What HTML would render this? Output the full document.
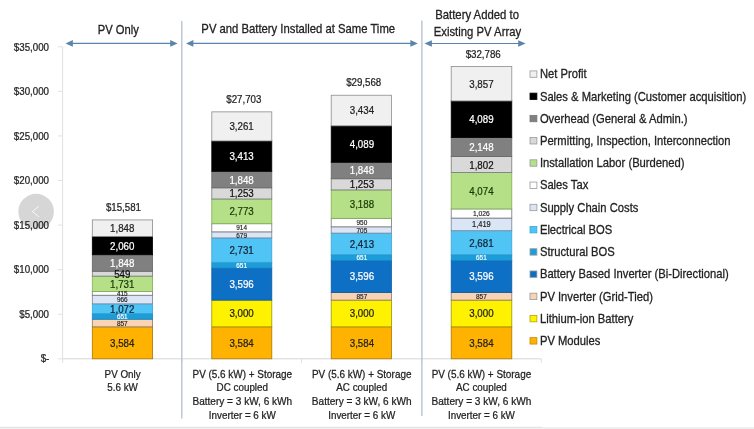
<!DOCTYPE html>
<html><head><meta charset="utf-8"><title>Chart</title>
<style>
html,body{margin:0;padding:0;background:#fff;}
body{width:754px;height:429px;overflow:hidden;font-family:"Liberation Sans", sans-serif;}
svg{display:block;font-family:"Liberation Sans", sans-serif;}
</style></head><body>
<svg width="754" height="429" viewBox="0 0 754 429">
<defs><filter id="soft" x="0" y="0" width="754" height="429" filterUnits="userSpaceOnUse"><feGaussianBlur stdDeviation="0.45"/></filter></defs>
<g filter="url(#soft)">
<rect x="-5" y="-5" width="764" height="439" fill="#fff"/>
<line x1="62.6" y1="46.81" x2="62.6" y2="358.8" stroke="#e0e0e0" stroke-width="1"/>
<line x1="62.6" y1="358.8" x2="541.3" y2="358.8" stroke="#d6d6d6" stroke-width="1"/>
<line x1="57.8" y1="358.80" x2="62.6" y2="358.80" stroke="#e2e2e2" stroke-width="1"/>
<text transform="translate(49.30,361.70) scale(0.885,1)" font-size="11" fill="#222" text-anchor="end" stroke="#222" stroke-width="0.25" >$-</text>
<line x1="57.8" y1="314.23" x2="62.6" y2="314.23" stroke="#e2e2e2" stroke-width="1"/>
<text transform="translate(49.00,318.03) scale(0.885,1)" font-size="11" fill="#222" text-anchor="end" stroke="#222" stroke-width="0.25" >$5,000</text>
<line x1="57.8" y1="269.66" x2="62.6" y2="269.66" stroke="#e2e2e2" stroke-width="1"/>
<text transform="translate(49.00,273.46) scale(0.885,1)" font-size="11" fill="#222" text-anchor="end" stroke="#222" stroke-width="0.25" >$10,000</text>
<line x1="57.8" y1="225.09" x2="62.6" y2="225.09" stroke="#e2e2e2" stroke-width="1"/>
<text transform="translate(49.00,228.89) scale(0.885,1)" font-size="11" fill="#222" text-anchor="end" stroke="#222" stroke-width="0.25" >$15,000</text>
<line x1="57.8" y1="180.52" x2="62.6" y2="180.52" stroke="#e2e2e2" stroke-width="1"/>
<text transform="translate(49.00,184.32) scale(0.885,1)" font-size="11" fill="#222" text-anchor="end" stroke="#222" stroke-width="0.25" >$20,000</text>
<line x1="57.8" y1="135.95" x2="62.6" y2="135.95" stroke="#e2e2e2" stroke-width="1"/>
<text transform="translate(49.00,139.75) scale(0.885,1)" font-size="11" fill="#222" text-anchor="end" stroke="#222" stroke-width="0.25" >$25,000</text>
<line x1="57.8" y1="91.38" x2="62.6" y2="91.38" stroke="#e2e2e2" stroke-width="1"/>
<text transform="translate(49.00,95.18) scale(0.885,1)" font-size="11" fill="#222" text-anchor="end" stroke="#222" stroke-width="0.25" >$30,000</text>
<line x1="57.8" y1="46.81" x2="62.6" y2="46.81" stroke="#e2e2e2" stroke-width="1"/>
<text transform="translate(49.00,50.61) scale(0.885,1)" font-size="11" fill="#222" text-anchor="end" stroke="#222" stroke-width="0.25" >$35,000</text>
<line x1="62.6" y1="358.8" x2="62.6" y2="362.8" stroke="#e0e0e0" stroke-width="1"/>
<line x1="182.0" y1="358.8" x2="182.0" y2="362.8" stroke="#e0e0e0" stroke-width="1"/>
<line x1="301.6" y1="358.8" x2="301.6" y2="362.8" stroke="#e0e0e0" stroke-width="1"/>
<line x1="421.8" y1="358.8" x2="421.8" y2="362.8" stroke="#e0e0e0" stroke-width="1"/>
<line x1="541.3" y1="358.8" x2="541.3" y2="362.8" stroke="#e0e0e0" stroke-width="1"/>
<line x1="181.8" y1="21" x2="181.8" y2="418.5" stroke="#b4c0cc" stroke-width="1.3"/>
<line x1="421.9" y1="20.5" x2="421.9" y2="416" stroke="#b4c0cc" stroke-width="1.3"/>
<line x1="68.5" y1="43.4" x2="174.6" y2="43.4" stroke="#5a84ae" stroke-width="1.1"/>
<polygon points="65.5,43.4 72.9,40.1 72.9,46.699999999999996" fill="#5a84ae"/>
<polygon points="177.6,43.4 170.2,40.1 170.2,46.699999999999996" fill="#5a84ae"/>
<line x1="189.0" y1="43.4" x2="414.8" y2="43.4" stroke="#5a84ae" stroke-width="1.1"/>
<polygon points="186.0,43.4 193.4,40.1 193.4,46.699999999999996" fill="#5a84ae"/>
<polygon points="417.8,43.4 410.40000000000003,40.1 410.40000000000003,46.699999999999996" fill="#5a84ae"/>
<line x1="427.5" y1="43.5" x2="522.6" y2="43.5" stroke="#5a84ae" stroke-width="1.1"/>
<polygon points="424.5,43.5 431.9,40.2 431.9,46.8" fill="#5a84ae"/>
<polygon points="525.6,43.5 518.2,40.2 518.2,46.8" fill="#5a84ae"/>
<text transform="translate(118.30,34.10) scale(0.862,1)" font-size="13" fill="#222" text-anchor="middle" stroke="#222" stroke-width="0.30" >PV Only</text>
<text transform="translate(298.20,32.70) scale(0.869,1)" font-size="13" fill="#222" text-anchor="middle" stroke="#222" stroke-width="0.30" >PV and Battery Installed at Same Time</text>
<text transform="translate(477.10,19.20) scale(0.872,1)" font-size="13" fill="#222" text-anchor="middle" stroke="#222" stroke-width="0.30" >Battery Added to</text>
<text transform="translate(477.40,35.60) scale(0.871,1)" font-size="13" fill="#222" text-anchor="middle" stroke="#222" stroke-width="0.30" >Existing PV Array</text>
<rect x="92.30" y="326.85" width="60.30" height="31.95" fill="#FFB300" stroke="#A87600" stroke-width="0.8"/>
<rect x="92.30" y="319.21" width="60.30" height="7.64" fill="#F8D3B4" stroke="#8a7868" stroke-width="0.8"/>
<rect x="92.30" y="313.41" width="60.30" height="5.80" fill="#1E9CD8" stroke="#1788c0" stroke-width="0.8"/>
<rect x="92.30" y="303.85" width="60.30" height="9.56" fill="#4FC4F5" stroke="#3aa6d4" stroke-width="0.8"/>
<rect x="92.30" y="295.24" width="60.30" height="8.61" fill="#DAE5F5" stroke="#7c8294" stroke-width="0.8"/>
<rect x="92.30" y="291.54" width="60.30" height="3.70" fill="#FFFFFF" stroke="#777" stroke-width="0.8"/>
<rect x="92.30" y="276.11" width="60.30" height="15.43" fill="#B5E088" stroke="#7fae55" stroke-width="0.8"/>
<rect x="92.30" y="271.22" width="60.30" height="4.89" fill="#D9D9D9" stroke="#777" stroke-width="0.8"/>
<rect x="92.30" y="254.75" width="60.30" height="16.47" fill="#808080" stroke="#666" stroke-width="0.8"/>
<rect x="92.30" y="236.38" width="60.30" height="18.36" fill="#000000" stroke="#000" stroke-width="0.8"/>
<rect x="92.30" y="219.91" width="60.30" height="16.47" fill="#F0F0F0" stroke="#8c8c8c" stroke-width="0.8"/>
<text transform="translate(122.25,346.76) scale(0.885,1)" font-size="11" fill="#222" text-anchor="middle" stroke="#222" stroke-width="0.25" >3,584</text>
<text transform="translate(122.25,325.65) scale(0.885,1)" font-size="7.3" fill="#222" text-anchor="middle" stroke="#222" stroke-width="0.17" >857</text>
<text transform="translate(122.25,318.92) scale(0.885,1)" font-size="7.3" fill="#fff" text-anchor="middle" stroke="#fff" stroke-width="0.17" >651</text>
<text transform="translate(122.25,312.57) scale(0.885,1)" font-size="11" fill="#123" text-anchor="middle" stroke="#123" stroke-width="0.25" >1,072</text>
<text transform="translate(122.25,302.16) scale(0.885,1)" font-size="7.3" fill="#222" text-anchor="middle" stroke="#222" stroke-width="0.17" >966</text>
<text transform="translate(122.25,296.01) scale(0.885,1)" font-size="7.3" fill="#222" text-anchor="middle" stroke="#222" stroke-width="0.17" >415</text>
<text transform="translate(122.25,287.77) scale(0.885,1)" font-size="11" fill="#1c3a00" text-anchor="middle" stroke="#1c3a00" stroke-width="0.25" >1,731</text>
<text transform="translate(122.25,277.60) scale(0.885,1)" font-size="11" fill="#111" text-anchor="middle" stroke="#111" stroke-width="0.25" >549</text>
<text transform="translate(122.25,266.92) scale(0.885,1)" font-size="11" fill="#fff" text-anchor="middle" stroke="#fff" stroke-width="0.25" >1,848</text>
<text transform="translate(122.25,249.50) scale(0.885,1)" font-size="11" fill="#fff" text-anchor="middle" stroke="#fff" stroke-width="0.25" >2,060</text>
<text transform="translate(122.25,232.09) scale(0.885,1)" font-size="11" fill="#222" text-anchor="middle" stroke="#222" stroke-width="0.25" >1,848</text>
<text transform="translate(123.45,210.91) scale(0.885,1)" font-size="11" fill="#222" text-anchor="middle" stroke="#222" stroke-width="0.25" >$15,581</text>
<rect x="211.80" y="326.85" width="60.00" height="31.95" fill="#FFB300" stroke="#A87600" stroke-width="0.8"/>
<rect x="211.80" y="300.11" width="60.00" height="26.74" fill="#FFF200" stroke="#9c9400" stroke-width="0.8"/>
<rect x="211.80" y="268.06" width="60.00" height="32.05" fill="#1070C4" stroke="#0c5aa6" stroke-width="0.8"/>
<rect x="211.80" y="262.25" width="60.00" height="5.80" fill="#1E9CD8" stroke="#1788c0" stroke-width="0.8"/>
<rect x="211.80" y="237.91" width="60.00" height="24.34" fill="#4FC4F5" stroke="#3aa6d4" stroke-width="0.8"/>
<rect x="211.80" y="231.86" width="60.00" height="6.05" fill="#DAE5F5" stroke="#7c8294" stroke-width="0.8"/>
<rect x="211.80" y="223.71" width="60.00" height="8.15" fill="#FFFFFF" stroke="#777" stroke-width="0.8"/>
<rect x="211.80" y="198.99" width="60.00" height="24.72" fill="#B5E088" stroke="#7fae55" stroke-width="0.8"/>
<rect x="211.80" y="187.82" width="60.00" height="11.17" fill="#D9D9D9" stroke="#777" stroke-width="0.8"/>
<rect x="211.80" y="171.35" width="60.00" height="16.47" fill="#808080" stroke="#666" stroke-width="0.8"/>
<rect x="211.80" y="140.92" width="60.00" height="30.42" fill="#000000" stroke="#000" stroke-width="0.8"/>
<rect x="211.80" y="111.86" width="60.00" height="29.07" fill="#F0F0F0" stroke="#8c8c8c" stroke-width="0.8"/>
<text transform="translate(241.60,346.76) scale(0.885,1)" font-size="11" fill="#222" text-anchor="middle" stroke="#222" stroke-width="0.25" >3,584</text>
<text transform="translate(241.60,317.42) scale(0.885,1)" font-size="11" fill="#222" text-anchor="middle" stroke="#222" stroke-width="0.25" >3,000</text>
<text transform="translate(241.60,288.02) scale(0.885,1)" font-size="11" fill="#fff" text-anchor="middle" stroke="#fff" stroke-width="0.25" >3,596</text>
<text transform="translate(241.60,267.77) scale(0.885,1)" font-size="7.3" fill="#fff" text-anchor="middle" stroke="#fff" stroke-width="0.17" >651</text>
<text transform="translate(241.60,254.02) scale(0.885,1)" font-size="11" fill="#123" text-anchor="middle" stroke="#123" stroke-width="0.25" >2,731</text>
<text transform="translate(241.60,237.50) scale(0.885,1)" font-size="7.3" fill="#222" text-anchor="middle" stroke="#222" stroke-width="0.17" >679</text>
<text transform="translate(241.60,230.40) scale(0.885,1)" font-size="7.3" fill="#222" text-anchor="middle" stroke="#222" stroke-width="0.17" >914</text>
<text transform="translate(241.60,215.29) scale(0.885,1)" font-size="11" fill="#1c3a00" text-anchor="middle" stroke="#1c3a00" stroke-width="0.25" >2,773</text>
<text transform="translate(241.60,197.34) scale(0.885,1)" font-size="11" fill="#111" text-anchor="middle" stroke="#111" stroke-width="0.25" >1,253</text>
<text transform="translate(241.60,183.52) scale(0.885,1)" font-size="11" fill="#fff" text-anchor="middle" stroke="#fff" stroke-width="0.25" >1,848</text>
<text transform="translate(241.60,160.07) scale(0.885,1)" font-size="11" fill="#fff" text-anchor="middle" stroke="#fff" stroke-width="0.25" >3,413</text>
<text transform="translate(241.60,130.33) scale(0.885,1)" font-size="11" fill="#222" text-anchor="middle" stroke="#222" stroke-width="0.25" >3,261</text>
<text transform="translate(243.80,102.86) scale(0.885,1)" font-size="11" fill="#222" text-anchor="middle" stroke="#222" stroke-width="0.25" >$27,703</text>
<rect x="331.20" y="326.85" width="60.20" height="31.95" fill="#FFB300" stroke="#A87600" stroke-width="0.8"/>
<rect x="331.20" y="300.11" width="60.20" height="26.74" fill="#FFF200" stroke="#9c9400" stroke-width="0.8"/>
<rect x="331.20" y="292.47" width="60.20" height="7.64" fill="#F8D3B4" stroke="#8a7868" stroke-width="0.8"/>
<rect x="331.20" y="260.42" width="60.20" height="32.05" fill="#1070C4" stroke="#0c5aa6" stroke-width="0.8"/>
<rect x="331.20" y="254.61" width="60.20" height="5.80" fill="#1E9CD8" stroke="#1788c0" stroke-width="0.8"/>
<rect x="331.20" y="233.10" width="60.20" height="21.51" fill="#4FC4F5" stroke="#3aa6d4" stroke-width="0.8"/>
<rect x="331.20" y="226.82" width="60.20" height="6.28" fill="#DAE5F5" stroke="#7c8294" stroke-width="0.8"/>
<rect x="331.20" y="218.35" width="60.20" height="8.47" fill="#FFFFFF" stroke="#777" stroke-width="0.8"/>
<rect x="331.20" y="189.93" width="60.20" height="28.42" fill="#B5E088" stroke="#7fae55" stroke-width="0.8"/>
<rect x="331.20" y="178.76" width="60.20" height="11.17" fill="#D9D9D9" stroke="#777" stroke-width="0.8"/>
<rect x="331.20" y="162.29" width="60.20" height="16.47" fill="#808080" stroke="#666" stroke-width="0.8"/>
<rect x="331.20" y="125.84" width="60.20" height="36.45" fill="#000000" stroke="#000" stroke-width="0.8"/>
<rect x="331.20" y="95.23" width="60.20" height="30.61" fill="#F0F0F0" stroke="#8c8c8c" stroke-width="0.8"/>
<text transform="translate(361.90,346.76) scale(0.885,1)" font-size="11" fill="#222" text-anchor="middle" stroke="#222" stroke-width="0.25" >3,584</text>
<text transform="translate(361.90,317.42) scale(0.885,1)" font-size="11" fill="#222" text-anchor="middle" stroke="#222" stroke-width="0.25" >3,000</text>
<text transform="translate(361.90,298.90) scale(0.885,1)" font-size="7.3" fill="#222" text-anchor="middle" stroke="#222" stroke-width="0.17" >857</text>
<text transform="translate(361.90,280.38) scale(0.885,1)" font-size="11" fill="#fff" text-anchor="middle" stroke="#fff" stroke-width="0.25" >3,596</text>
<text transform="translate(361.90,260.13) scale(0.885,1)" font-size="7.3" fill="#fff" text-anchor="middle" stroke="#fff" stroke-width="0.17" >651</text>
<text transform="translate(361.90,247.80) scale(0.885,1)" font-size="11" fill="#123" text-anchor="middle" stroke="#123" stroke-width="0.25" >2,413</text>
<text transform="translate(361.90,232.57) scale(0.885,1)" font-size="7.3" fill="#222" text-anchor="middle" stroke="#222" stroke-width="0.17" >705</text>
<text transform="translate(361.90,225.20) scale(0.885,1)" font-size="7.3" fill="#222" text-anchor="middle" stroke="#222" stroke-width="0.17" >950</text>
<text transform="translate(361.90,208.08) scale(0.885,1)" font-size="11" fill="#1c3a00" text-anchor="middle" stroke="#1c3a00" stroke-width="0.25" >3,188</text>
<text transform="translate(361.90,188.29) scale(0.885,1)" font-size="11" fill="#111" text-anchor="middle" stroke="#111" stroke-width="0.25" >1,253</text>
<text transform="translate(361.90,174.47) scale(0.885,1)" font-size="11" fill="#fff" text-anchor="middle" stroke="#fff" stroke-width="0.25" >1,848</text>
<text transform="translate(361.90,148.00) scale(0.885,1)" font-size="11" fill="#fff" text-anchor="middle" stroke="#fff" stroke-width="0.25" >4,089</text>
<text transform="translate(361.90,114.47) scale(0.885,1)" font-size="11" fill="#222" text-anchor="middle" stroke="#222" stroke-width="0.25" >3,434</text>
<text transform="translate(363.70,86.23) scale(0.885,1)" font-size="11" fill="#222" text-anchor="middle" stroke="#222" stroke-width="0.25" >$29,568</text>
<rect x="451.20" y="326.85" width="60.60" height="31.95" fill="#FFB300" stroke="#A87600" stroke-width="0.8"/>
<rect x="451.20" y="300.11" width="60.60" height="26.74" fill="#FFF200" stroke="#9c9400" stroke-width="0.8"/>
<rect x="451.20" y="292.47" width="60.60" height="7.64" fill="#F8D3B4" stroke="#8a7868" stroke-width="0.8"/>
<rect x="451.20" y="260.42" width="60.60" height="32.05" fill="#1070C4" stroke="#0c5aa6" stroke-width="0.8"/>
<rect x="451.20" y="254.61" width="60.60" height="5.80" fill="#1E9CD8" stroke="#1788c0" stroke-width="0.8"/>
<rect x="451.20" y="230.71" width="60.60" height="23.90" fill="#4FC4F5" stroke="#3aa6d4" stroke-width="0.8"/>
<rect x="451.20" y="218.07" width="60.60" height="12.65" fill="#DAE5F5" stroke="#7c8294" stroke-width="0.8"/>
<rect x="451.20" y="208.92" width="60.60" height="9.15" fill="#FFFFFF" stroke="#777" stroke-width="0.8"/>
<rect x="451.20" y="172.60" width="60.60" height="36.32" fill="#B5E088" stroke="#7fae55" stroke-width="0.8"/>
<rect x="451.20" y="156.54" width="60.60" height="16.06" fill="#D9D9D9" stroke="#777" stroke-width="0.8"/>
<rect x="451.20" y="137.39" width="60.60" height="19.15" fill="#808080" stroke="#666" stroke-width="0.8"/>
<rect x="451.20" y="100.94" width="60.60" height="36.45" fill="#000000" stroke="#000" stroke-width="0.8"/>
<rect x="451.20" y="66.56" width="60.60" height="34.38" fill="#F0F0F0" stroke="#8c8c8c" stroke-width="0.8"/>
<text transform="translate(481.40,346.76) scale(0.885,1)" font-size="11" fill="#222" text-anchor="middle" stroke="#222" stroke-width="0.25" >3,584</text>
<text transform="translate(481.40,317.42) scale(0.885,1)" font-size="11" fill="#222" text-anchor="middle" stroke="#222" stroke-width="0.25" >3,000</text>
<text transform="translate(481.40,298.90) scale(0.885,1)" font-size="7.3" fill="#222" text-anchor="middle" stroke="#222" stroke-width="0.17" >857</text>
<text transform="translate(481.40,280.38) scale(0.885,1)" font-size="11" fill="#fff" text-anchor="middle" stroke="#fff" stroke-width="0.25" >3,596</text>
<text transform="translate(481.40,260.13) scale(0.885,1)" font-size="7.3" fill="#fff" text-anchor="middle" stroke="#fff" stroke-width="0.17" >651</text>
<text transform="translate(481.40,246.60) scale(0.885,1)" font-size="11" fill="#123" text-anchor="middle" stroke="#123" stroke-width="0.25" >2,681</text>
<text transform="translate(481.40,227.43) scale(0.885,1)" font-size="8.5" fill="#222" text-anchor="middle" stroke="#222" stroke-width="0.19" >1,419</text>
<text transform="translate(481.40,216.21) scale(0.885,1)" font-size="7.6" fill="#222" text-anchor="middle" stroke="#222" stroke-width="0.17" >1,026</text>
<text transform="translate(481.40,194.70) scale(0.885,1)" font-size="11" fill="#1c3a00" text-anchor="middle" stroke="#1c3a00" stroke-width="0.25" >4,074</text>
<text transform="translate(481.40,168.51) scale(0.885,1)" font-size="11" fill="#111" text-anchor="middle" stroke="#111" stroke-width="0.25" >1,802</text>
<text transform="translate(481.40,150.91) scale(0.885,1)" font-size="11" fill="#fff" text-anchor="middle" stroke="#fff" stroke-width="0.25" >2,148</text>
<text transform="translate(481.40,123.11) scale(0.885,1)" font-size="11" fill="#fff" text-anchor="middle" stroke="#fff" stroke-width="0.25" >4,089</text>
<text transform="translate(481.40,87.69) scale(0.885,1)" font-size="11" fill="#222" text-anchor="middle" stroke="#222" stroke-width="0.25" >3,857</text>
<text transform="translate(483.20,57.56) scale(0.885,1)" font-size="11" fill="#222" text-anchor="middle" stroke="#222" stroke-width="0.25" >$32,786</text>
<text transform="translate(122.60,377.50) scale(0.895,1)" font-size="11" fill="#222" text-anchor="middle" stroke="#222" stroke-width="0.25" >PV Only</text>
<text transform="translate(122.60,391.40) scale(0.895,1)" font-size="11" fill="#222" text-anchor="middle" stroke="#222" stroke-width="0.25" >5.6 kW</text>
<text transform="translate(242.30,377.50) scale(0.903,1)" font-size="11" fill="#222" text-anchor="middle" stroke="#222" stroke-width="0.25" >PV (5.6 kW) + Storage</text>
<text transform="translate(242.30,391.40) scale(0.895,1)" font-size="11" fill="#222" text-anchor="middle" stroke="#222" stroke-width="0.25" >DC coupled</text>
<text transform="translate(242.30,405.30) scale(0.915,1)" font-size="11" fill="#222" text-anchor="middle" stroke="#222" stroke-width="0.25" >Battery = 3 kW, 6 kWh</text>
<text transform="translate(242.30,419.20) scale(0.895,1)" font-size="11" fill="#222" text-anchor="middle" stroke="#222" stroke-width="0.25" >Inverter = 6 kW</text>
<text transform="translate(361.70,377.50) scale(0.903,1)" font-size="11" fill="#222" text-anchor="middle" stroke="#222" stroke-width="0.25" >PV (5.6 kW) + Storage</text>
<text transform="translate(361.70,391.40) scale(0.895,1)" font-size="11" fill="#222" text-anchor="middle" stroke="#222" stroke-width="0.25" >AC coupled</text>
<text transform="translate(361.70,405.30) scale(0.915,1)" font-size="11" fill="#222" text-anchor="middle" stroke="#222" stroke-width="0.25" >Battery = 3 kW, 6 kWh</text>
<text transform="translate(361.70,419.20) scale(0.895,1)" font-size="11" fill="#222" text-anchor="middle" stroke="#222" stroke-width="0.25" >Inverter = 6 kW</text>
<text transform="translate(481.40,377.50) scale(0.903,1)" font-size="11" fill="#222" text-anchor="middle" stroke="#222" stroke-width="0.25" >PV (5.6 kW) + Storage</text>
<text transform="translate(481.40,391.40) scale(0.895,1)" font-size="11" fill="#222" text-anchor="middle" stroke="#222" stroke-width="0.25" >AC coupled</text>
<text transform="translate(481.40,405.30) scale(0.915,1)" font-size="11" fill="#222" text-anchor="middle" stroke="#222" stroke-width="0.25" >Battery = 3 kW, 6 kWh</text>
<text transform="translate(481.40,419.20) scale(0.895,1)" font-size="11" fill="#222" text-anchor="middle" stroke="#222" stroke-width="0.25" >Inverter = 6 kW</text>
<rect x="530.0" y="70.90" width="6.9" height="6.4" fill="#F0F0F0" stroke="#999" stroke-width="0.8"/>
<text transform="translate(539.90,78.30) scale(0.864,1)" font-size="13" fill="#222" text-anchor="start" stroke="#222" stroke-width="0.30" >Net Profit</text>
<rect x="530.0" y="93.13" width="6.9" height="6.4" fill="#000000" stroke="#000" stroke-width="0.8"/>
<text transform="translate(539.90,100.53) scale(0.864,1)" font-size="13" fill="#222" text-anchor="start" stroke="#222" stroke-width="0.30" >Sales &amp; Marketing (Customer acquisition)</text>
<rect x="530.0" y="115.36" width="6.9" height="6.4" fill="#808080" stroke="#777" stroke-width="0.8"/>
<text transform="translate(539.90,122.76) scale(0.864,1)" font-size="13" fill="#222" text-anchor="start" stroke="#222" stroke-width="0.30" >Overhead (General &amp; Admin.)</text>
<rect x="530.0" y="137.59" width="6.9" height="6.4" fill="#D9D9D9" stroke="#999" stroke-width="0.8"/>
<text transform="translate(539.90,144.99) scale(0.864,1)" font-size="13" fill="#222" text-anchor="start" stroke="#222" stroke-width="0.30" >Permitting, Inspection, Interconnection</text>
<rect x="530.0" y="159.82" width="6.9" height="6.4" fill="#B5E088" stroke="#999" stroke-width="0.8"/>
<text transform="translate(539.90,167.22) scale(0.864,1)" font-size="13" fill="#222" text-anchor="start" stroke="#222" stroke-width="0.30" >Installation Labor (Burdened)</text>
<rect x="530.0" y="182.05" width="6.9" height="6.4" fill="#FFFFFF" stroke="#999" stroke-width="0.8"/>
<text transform="translate(539.90,189.45) scale(0.864,1)" font-size="13" fill="#222" text-anchor="start" stroke="#222" stroke-width="0.30" >Sales Tax</text>
<rect x="530.0" y="204.28" width="6.9" height="6.4" fill="#DAE5F5" stroke="#999" stroke-width="0.8"/>
<text transform="translate(539.90,211.68) scale(0.864,1)" font-size="13" fill="#222" text-anchor="start" stroke="#222" stroke-width="0.30" >Supply Chain Costs</text>
<rect x="530.0" y="226.51" width="6.9" height="6.4" fill="#4FC4F5" stroke="#3aa8d8" stroke-width="0.8"/>
<text transform="translate(539.90,233.91) scale(0.864,1)" font-size="13" fill="#222" text-anchor="start" stroke="#222" stroke-width="0.30" >Electrical BOS</text>
<rect x="530.0" y="248.74" width="6.9" height="6.4" fill="#1E9CD8" stroke="#999" stroke-width="0.8"/>
<text transform="translate(539.90,256.14) scale(0.864,1)" font-size="13" fill="#222" text-anchor="start" stroke="#222" stroke-width="0.30" >Structural BOS</text>
<rect x="530.0" y="270.97" width="6.9" height="6.4" fill="#1070C4" stroke="#999" stroke-width="0.8"/>
<text transform="translate(539.90,278.37) scale(0.864,1)" font-size="13" fill="#222" text-anchor="start" stroke="#222" stroke-width="0.30" >Battery Based Inverter (Bi-Directional)</text>
<rect x="530.0" y="293.20" width="6.9" height="6.4" fill="#F8D3B4" stroke="#999" stroke-width="0.8"/>
<text transform="translate(539.90,300.60) scale(0.864,1)" font-size="13" fill="#222" text-anchor="start" stroke="#222" stroke-width="0.30" >PV Inverter (Grid-Tied)</text>
<rect x="530.0" y="315.43" width="6.9" height="6.4" fill="#FFF200" stroke="#b0a800" stroke-width="0.8"/>
<text transform="translate(539.90,322.83) scale(0.864,1)" font-size="13" fill="#222" text-anchor="start" stroke="#222" stroke-width="0.30" >Lithium-ion Battery</text>
<rect x="530.0" y="337.66" width="6.9" height="6.4" fill="#FFB300" stroke="#c08a00" stroke-width="0.8"/>
<text transform="translate(539.90,345.06) scale(0.864,1)" font-size="13" fill="#222" text-anchor="start" stroke="#222" stroke-width="0.30" >PV Modules</text>
<circle cx="36.1" cy="211.6" r="17.8" fill="#000" fill-opacity="0.16"/>
<polyline points="38.8,206.4 32.4,211.6 38.8,216.8" fill="none" stroke="#fff" stroke-width="0.9" stroke-opacity="0.9"/>
<rect x="-5" y="427" width="764" height="4" fill="#f0f0f0"/>
<rect x="-5" y="426.8" width="547" height="1" fill="#e2e2e2"/>
</g>
</svg>
</body></html>
